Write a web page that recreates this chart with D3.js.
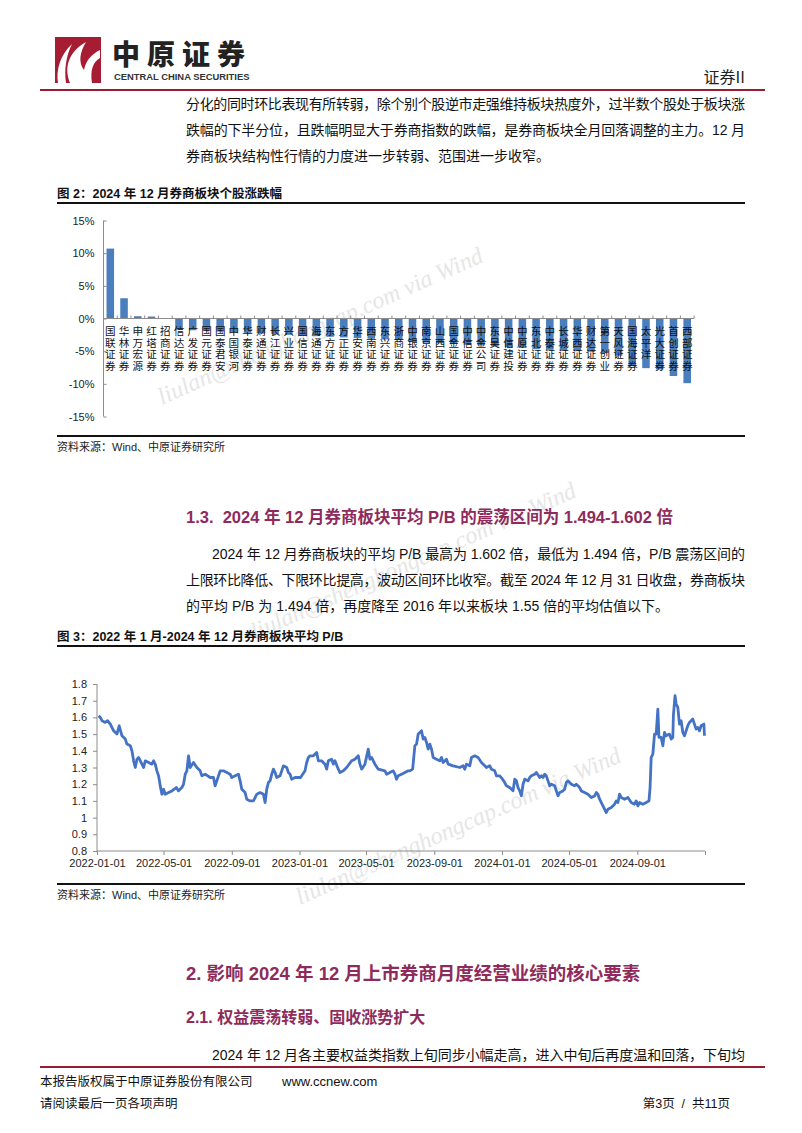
<!DOCTYPE html>
<html><head><meta charset="utf-8">
<script src="https://cdn.jsdelivr.net/npm/d3@7"></script>
<style>body{margin:0;background:#fff}svg{display:block}text{white-space:pre}</style>
</head><body>
<svg id="page" width="802" height="1133"></svg>
<script>
// ---------- data ----------
const brokers = ["国联证券","华林证券","申万宏源","红塔证券","招商证券","信达证券","广发证券","国元证券","国泰君安","中国银河","华泰证券","财通证券","长江证券","兴业证券","国信证券","海通证券","东方证券","方正证券","华安证券","西南证券","东兴证券","浙商证券","中银证券","南京证券","山西证券","国金证券","中信证券","中金公司","东吴证券","中信建投","中原证券","东北证券","中泰证券","长城证券","华西证券","财达证券","第一创业","天风证券","国海证券","太平洋","光大证券","首创证券","西部证券"];
const changes = [10.7,3.1,0.35,0.3,-0.05,-1.7,-1.8,-1.9,-2.0,-2.1,-2.2,-2.3,-2.4,-2.5,-2.6,-2.7,-2.8,-2.9,-3.0,-3.1,-3.2,-3.3,-3.6,-3.7,-3.8,-3.9,-4.0,-4.1,-4.3,-4.4,-4.5,-4.7,-4.8,-4.9,-5.0,-5.1,-5.3,-5.7,-7.3,-7.6,-7.8,-8.8,-9.9];
const barTicks = [15,10,5,0,-5,-10,-15];

const pbDates = ["2022-01-04","2022-01-07","2022-01-10","2022-01-16","2022-01-20","2022-01-25","2022-01-31","2022-02-06","2022-02-10","2022-02-15","2022-02-21","2022-02-24","2022-03-02","2022-03-05","2022-03-08","2022-03-11","2022-03-14","2022-03-17","2022-03-23","2022-03-26","2022-03-29","2022-04-04","2022-04-10","2022-04-13","2022-04-16","2022-04-19","2022-04-22","2022-04-25","2022-04-28","2022-05-01","2022-05-04","2022-05-10","2022-05-16","2022-05-24","2022-05-28","2022-06-03","2022-06-06","2022-06-09","2022-06-12","2022-06-15","2022-06-18","2022-06-24","2022-06-30","2022-07-06","2022-07-09","2022-07-15","2022-07-24","2022-07-30","2022-08-02","2022-08-08","2022-08-11","2022-08-17","2022-08-29","2022-09-01","2022-09-07","2022-09-13","2022-09-16","2022-09-19","2022-09-25","2022-09-28","2022-10-04","2022-10-10","2022-10-13","2022-10-16","2022-10-22","2022-10-28","2022-10-31","2022-11-03","2022-11-06","2022-11-09","2022-11-12","2022-11-15","2022-11-18","2022-11-21","2022-11-27","2022-11-30","2022-12-03","2022-12-09","2022-12-12","2022-12-15","2022-12-18","2022-12-24","2023-01-03","2023-01-05","2023-01-11","2023-01-14","2023-01-17","2023-01-20","2023-01-26","2023-02-01","2023-02-04","2023-02-10","2023-02-16","2023-02-19","2023-02-22","2023-02-28","2023-03-03","2023-03-06","2023-03-12","2023-03-15","2023-03-21","2023-03-27","2023-04-05","2023-04-11","2023-04-17","2023-04-20","2023-04-23","2023-04-29","2023-05-05","2023-05-08","2023-05-11","2023-05-17","2023-05-23","2023-06-04","2023-06-07","2023-06-13","2023-06-19","2023-06-22","2023-06-25","2023-06-28","2023-07-04","2023-07-10","2023-07-16","2023-07-19","2023-07-24","2023-07-26","2023-07-28","2023-07-31","2023-08-03","2023-08-06","2023-08-09","2023-08-12","2023-08-15","2023-08-18","2023-08-21","2023-08-24","2023-08-27","2023-08-30","2023-09-05","2023-09-11","2023-09-14","2023-09-17","2023-09-23","2023-09-26","2023-10-05","2023-10-17","2023-10-23","2023-10-26","2023-10-29","2023-11-04","2023-11-07","2023-11-13","2023-11-19","2023-11-25","2023-12-01","2023-12-04","2023-12-10","2023-12-13","2023-12-19","2023-12-22","2023-12-28","2024-01-02","2024-01-06","2024-01-09","2024-01-15","2024-01-21","2024-01-24","2024-01-27","2024-01-30","2024-02-02","2024-02-05","2024-02-08","2024-02-11","2024-02-17","2024-02-20","2024-02-23","2024-02-29","2024-03-03","2024-03-09","2024-03-12","2024-03-15","2024-03-18","2024-03-21","2024-03-24","2024-03-27","2024-03-30","2024-04-05","2024-04-08","2024-04-11","2024-04-14","2024-04-20","2024-04-23","2024-04-26","2024-04-29","2024-05-05","2024-05-11","2024-05-14","2024-05-20","2024-05-23","2024-05-29","2024-06-04","2024-06-10","2024-06-16","2024-06-19","2024-06-22","2024-06-25","2024-07-01","2024-07-07","2024-07-10","2024-07-16","2024-07-22","2024-07-25","2024-07-28","2024-07-31","2024-08-03","2024-08-09","2024-08-15","2024-08-21","2024-08-27","2024-08-30","2024-09-02","2024-09-05","2024-09-11","2024-09-17","2024-09-22","2024-09-24","2024-09-26","2024-09-29","2024-10-02","2024-10-05","2024-10-08","2024-10-10","2024-10-14","2024-10-17","2024-10-20","2024-10-23","2024-10-29","2024-11-01","2024-11-04","2024-11-05","2024-11-08","2024-11-10","2024-11-13","2024-11-16","2024-11-19","2024-11-22","2024-11-25","2024-11-28","2024-12-01","2024-12-04","2024-12-10","2024-12-13","2024-12-16","2024-12-19","2024-12-22","2024-12-25","2024-12-30","2024-12-31"];
const pbValues = [1.61,1.60,1.58,1.57,1.58,1.56,1.52,1.50,1.55,1.49,1.47,1.44,1.43,1.40,1.34,1.30,1.35,1.36,1.32,1.30,1.34,1.33,1.32,1.34,1.32,1.28,1.25,1.19,1.14,1.17,1.14,1.15,1.16,1.18,1.16,1.18,1.20,1.26,1.28,1.37,1.30,1.33,1.30,1.28,1.25,1.26,1.24,1.24,1.19,1.25,1.28,1.28,1.26,1.24,1.25,1.26,1.22,1.17,1.15,1.11,1.10,1.10,1.12,1.14,1.15,1.14,1.09,1.17,1.21,1.22,1.26,1.29,1.27,1.24,1.25,1.28,1.31,1.30,1.27,1.26,1.23,1.24,1.24,1.25,1.28,1.33,1.36,1.37,1.37,1.39,1.34,1.34,1.32,1.29,1.34,1.35,1.32,1.34,1.29,1.27,1.28,1.30,1.34,1.35,1.37,1.32,1.29,1.32,1.41,1.35,1.36,1.32,1.29,1.28,1.26,1.27,1.28,1.26,1.23,1.25,1.26,1.27,1.28,1.28,1.29,1.36,1.43,1.44,1.50,1.51,1.52,1.47,1.48,1.45,1.41,1.44,1.41,1.36,1.35,1.34,1.36,1.33,1.35,1.32,1.31,1.30,1.31,1.29,1.32,1.31,1.36,1.37,1.36,1.33,1.31,1.30,1.31,1.29,1.28,1.25,1.25,1.23,1.21,1.19,1.18,1.16,1.23,1.22,1.18,1.16,1.13,1.20,1.23,1.22,1.24,1.25,1.26,1.27,1.24,1.25,1.24,1.26,1.25,1.22,1.19,1.20,1.19,1.16,1.13,1.15,1.16,1.17,1.21,1.22,1.20,1.19,1.20,1.18,1.16,1.15,1.14,1.12,1.13,1.15,1.14,1.11,1.07,1.03,1.05,1.06,1.08,1.10,1.09,1.14,1.12,1.11,1.12,1.09,1.08,1.10,1.07,1.09,1.08,1.09,1.10,1.18,1.36,1.38,1.50,1.50,1.65,1.48,1.48,1.43,1.51,1.49,1.50,1.47,1.48,1.61,1.73,1.68,1.66,1.56,1.58,1.51,1.49,1.52,1.55,1.57,1.59,1.56,1.53,1.54,1.52,1.55,1.56,1.49];
const pbTicks = [1.8,1.7,1.6,1.5,1.4,1.3,1.2,1.1,1.0,0.9,0.8];
const dateTicks = ["2022-01-01","2022-05-01","2022-09-01","2023-01-01","2023-05-01","2023-09-01","2024-01-01","2024-05-01","2024-09-01","2025-01-01"];

// ---------- page ----------
const svg = d3.select("#page");
const CJK = "'Noto Sans CJK SC','Noto Sans',sans-serif";
const LAT = "'Liberation Sans',Arial,'Noto Sans CJK SC',sans-serif";
const MIX = "'Liberation Sans','Noto Sans CJK SC',sans-serif";
const headColor = "#8e2b5b";
const red = "#9b1b30";

// watermarks
const wm = svg.append("g").attr("fill","#e6e6e6").attr("font-family","'Liberation Serif',serif").attr("font-style","italic").attr("font-size",24);
[[162,405],[255,640],[300,905]].forEach(([x,y])=>{
  wm.append("text").attr("transform",`translate(${x},${y}) rotate(-24)`).text("liulan@shenghongcap.com via Wind");
});

// logo
const logo = svg.append("g");
logo.append("rect").attr("x",55).attr("y",37).attr("width",46).attr("height",46).attr("fill","#a61c33");
logo.append("path").attr("d","M70,83 C64,68 68,52 86,42 C80,52 78,62 84,70 C86,60 92,54 100,50 L100,58 C93,62 90,70 92,83 Z").attr("fill","#fff");
logo.append("path").attr("d","M58,83 C56,70 60,55 72,44 C66,56 64,70 66,83 Z").attr("fill","#fff");
svg.append("text").attr("x",112).attr("y",65).attr("font-family",CJK).attr("font-weight",900).attr("font-size",28).attr("fill","#222").attr("letter-spacing",7).text("中原证券");
svg.append("text").attr("x",114).attr("y",80).attr("font-family",LAT).attr("font-weight","bold").attr("font-size",9.4).attr("fill","#333").text("CENTRAL CHINA SECURITIES");
svg.append("text").attr("x",745).attr("y",83).attr("text-anchor","end").attr("font-family",CJK).attr("font-size",16).attr("fill","#222").text("证券II");
svg.append("line").attr("x1",40).attr("x2",765).attr("y1",90).attr("y2",90).attr("stroke",red).attr("stroke-width",2);

function para(x,y,str,width,size){
  const t = svg.append("text").attr("x",x).attr("y",y).attr("font-family",MIX).attr("font-size",size||14).attr("fill","#111").text(str);
  if(width) t.attr("textLength",width).attr("lengthAdjust","spacing");
  return t;
}
para(186,109,"分化的同时环比表现有所转弱，除个别个股逆市走强维持板块热度外，过半数个股处于板块涨",559);
para(186,135,"跌幅的下半分位，且跌幅明显大于券商指数的跌幅，是券商板块全月回落调整的主力。12 月",559);
para(186,161,"券商板块结构性行情的力度进一步转弱、范围进一步收窄。");

function figTitle(y,str){
  svg.append("text").attr("x",57).attr("y",y).attr("font-family",MIX).attr("font-weight","bold").attr("font-size",12.5).attr("fill","#111").text(str);
}
function rule(y){ svg.append("line").attr("x1",57).attr("x2",745).attr("y1",y).attr("y2",y).attr("stroke","#111").attr("stroke-width",2); }
function source(y){ svg.append("text").attr("x",57).attr("y",y).attr("font-family",MIX).attr("font-size",11).attr("fill","#222").text("资料来源：Wind、中原证券研究所"); }

// ---------- figure 2 : bars ----------
figTitle(198,"图 2：2024 年 12 月券商板块个股涨跌幅");
rule(203);
const bx = d3.scaleBand().domain(brokers).range([103.5,694]).paddingInner(0.45).paddingOuter(0.22);
const by = d3.scaleLinear().domain([-15,15]).range([416.5,220.5]);
const g2 = svg.append("g");
g2.selectAll("rect.bar").data(brokers).join("rect").attr("class","bar")
  .attr("x",d=>bx(d)).attr("width",bx.bandwidth())
  .attr("y",(d,i)=>by(Math.max(0,changes[i]))).attr("height",(d,i)=>Math.abs(by(changes[i])-by(0)))
  .attr("fill","#4a7ebd");
const yAx = g2.append("g").attr("transform","translate(103.5,0)")
  .call(d3.axisLeft(by).tickValues(barTicks).tickSize(-3).tickPadding(9).tickFormat(d=>d+"%"));
yAx.select(".domain").attr("stroke","#8c8c8c").attr("d","M0,"+by(15)+"V"+by(-15));
yAx.selectAll(".tick line").attr("stroke","#8c8c8c");
yAx.selectAll("text").attr("font-family",LAT).attr("font-size",11).attr("fill","#222");
const step = bx.step();
const xAx = g2.append("g").attr("transform",`translate(0,${by(0)})`);
xAx.append("line").attr("x1",103.5).attr("x2",694).attr("stroke","#8c8c8c");
xAx.selectAll("line.tk").data(d3.range(brokers.length+1)).join("line").attr("class","tk")
  .attr("x1",i=>103.5+i*step).attr("x2",i=>103.5+i*step).attr("y1",-3).attr("y2",0).attr("stroke","#8c8c8c");
// vertical labels: one text per character
brokers.forEach(d=>{
  Array.from(d).forEach((ch,k)=>{
    g2.append("text").attr("x",bx(d)+bx.bandwidth()/2).attr("y",by(0)+16.5+k*11.6)
      .attr("font-family",MIX).attr("font-size",10.6).attr("fill","#111").attr("text-anchor","middle").text(ch);
  });
});
rule(436);
source(451);

// ---------- section 1.3 ----------
svg.append("text").attr("x",186).attr("y",523).attr("font-family",MIX).attr("font-weight","bold").attr("font-size",16.5).attr("fill",headColor)
  .text("1.3.\u00a0\u00a02024 年 12 月券商板块平均 P/B 的震荡区间为 1.494-1.602 倍");
para(212,559,"2024 年 12 月券商板块的平均 P/B 最高为 1.602 倍，最低为 1.494 倍，P/B 震荡区间的",533);
para(186,585,"上限环比降低、下限环比提高，波动区间环比收窄。截至 2024 年 12 月 31 日收盘，券商板块",559);
para(186,611,"的平均 P/B 为 1.494 倍，再度降至 2016 年以来板块 1.55 倍的平均估值以下。");

// ---------- figure 3 : line ----------
figTitle(641,"图 3：2022 年 1 月-2024 年 12 月券商板块平均 P/B");
rule(646);
const parse = d3.timeParse("%Y-%m-%d");
const lx = d3.scaleTime().domain([parse("2022-01-01"),parse("2025-01-01")]).range([97,705]);
const ly = d3.scaleLinear().domain([0.8,1.8]).range([851,684]);
const g3 = svg.append("g");
const yA3 = g3.append("g").attr("transform","translate(97,0)")
  .call(d3.axisLeft(ly).tickValues(pbTicks).tickSize(4).tickPadding(6).tickFormat(d=>String(+d.toFixed(1))));
yA3.select(".domain").attr("stroke","#8c8c8c").attr("d","M0,"+ly(1.8)+"V"+ly(0.8));
yA3.selectAll(".tick line").attr("stroke","#8c8c8c");
yA3.selectAll("text").attr("font-family",LAT).attr("font-size",11).attr("fill","#222");
const xA3 = g3.append("g").attr("transform","translate(0,851)")
  .call(d3.axisBottom(lx).tickValues(dateTicks.map(parse)).tickSize(4).tickPadding(4)
  .tickFormat((d,i)=> i<dateTicks.length-1 ? d3.timeFormat("%Y-%m-%d")(d) : ""));
xA3.select(".domain").attr("stroke","#8c8c8c").attr("d","M97,0H705");
xA3.selectAll(".tick line").attr("stroke","#8c8c8c");
xA3.selectAll("text").attr("font-family",LAT).attr("font-size",11).attr("fill","#222");
const pts = pbDates.map((d,i)=>[parse(d),pbValues[i]]);
g3.append("path").datum(pts).attr("fill","none").attr("stroke","#4472c4").attr("stroke-width",2.8).attr("stroke-linejoin","round")
  .attr("d",d3.line().x(d=>lx(d[0])).y(d=>ly(d[1])));
rule(884);
source(899);

// ---------- section 2 ----------
svg.append("text").attr("x",186).attr("y",980).attr("font-family",MIX).attr("font-weight","bold").attr("font-size",18.5).attr("fill",headColor)
  .text("2. 影响 2024 年 12 月上市券商月度经营业绩的核心要素");
svg.append("text").attr("x",186).attr("y",1023).attr("font-family",MIX).attr("font-weight","bold").attr("font-size",16).attr("fill",headColor)
  .text("2.1. 权益震荡转弱、固收涨势扩大");
para(212,1060,"2024 年 12 月各主要权益类指数上旬同步小幅走高，进入中旬后再度温和回落，下旬均",533);

// footer
svg.append("line").attr("x1",40).attr("x2",765).attr("y1",1067).attr("y2",1067).attr("stroke",red).attr("stroke-width",2);
svg.append("text").attr("x",40).attr("y",1086).attr("font-family",MIX).attr("font-size",12.5).attr("fill","#111").text("本报告版权属于中原证券股份有限公司");
svg.append("text").attr("x",282).attr("y",1086).attr("font-family",LAT).attr("font-size",13).attr("fill","#111").text("www.ccnew.com");
svg.append("text").attr("x",40).attr("y",1108).attr("font-family",MIX).attr("font-size",12.5).attr("fill","#111").text("请阅读最后一页各项声明");
svg.append("text").attr("x",730).attr("y",1108).attr("text-anchor","end").attr("font-family",MIX).attr("font-size",12.5).attr("fill","#111").text("第3页\u00a0\u00a0/\u00a0\u00a0共11页");
</script>
</body></html>
